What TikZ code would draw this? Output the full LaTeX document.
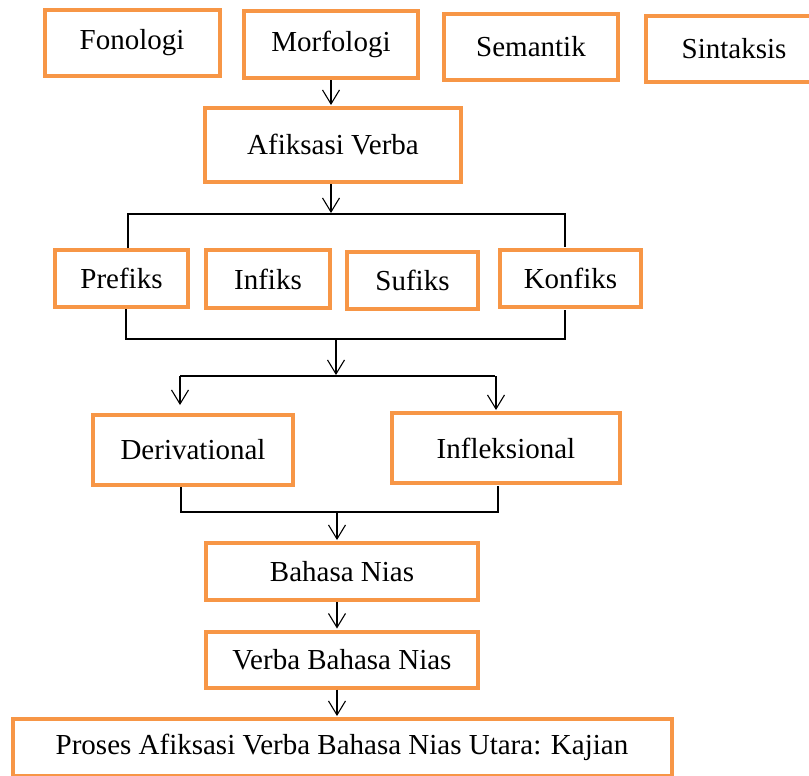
\documentclass[tikz,border=0pt]{standalone}
\usepackage{fontspec}
\setmainfont{Liberation Serif}
\usetikzlibrary{arrows.meta}
\definecolor{boxorange}{HTML}{F79646}

\begin{document}
\begin{tikzpicture}[x=0.5pt,y=-0.5pt,->,>={Straight Barb[length=7pt,width=8.5pt]},shorten >=0.5pt,line width=0.55pt,node distance=44pt,
    box/.style={rectangle, draw=boxorange, line width=2pt, inner sep=0pt, font=\fontsize{14.5}{17}\selectfont},
    ]
    \useasboundingbox (0,0) rectangle (809,776);

    \node [box, minimum width=87.5pt, minimum height=33pt](1) at (132,43){Fonologi};
    \node [box, minimum width=87pt, minimum height=33.5pt](2) at (331,44.5){Morfologi};
    \node [box, minimum width=87pt, minimum height=33pt](3) at (531,47){Semantik};
    \node [box, minimum width=88pt, minimum height=33pt](4) at (734,49){Sintaksis};

    \node [box, minimum width=128pt, minimum height=37pt](5) at (333,145){Afiksasi Verba};

    \node [box, minimum width=66.5pt, minimum height=28.5pt](6) at (121.5,278.5){Prefiks};
    \node [box, minimum width=62pt, minimum height=29pt](7) at (268,279){Infiks};
    \node [box, minimum width=65.5pt, minimum height=28.5pt](8) at (412.5,280.5){Sufiks};
    \node [box, minimum width=70.5pt, minimum height=28.5pt](9) at (570.5,278.5){Konfiks};

    \node [box, minimum width=100pt, minimum height=35pt](10) at (193,450){Derivational};
    \node [box, minimum width=114pt, minimum height=35pt](11) at (506,448){Infleksional};

    \node [box, minimum width=136pt, minimum height=28.5pt](12) at (342,571.5){Bahasa Nias};
    \node [box, minimum width=136pt, minimum height=28pt](13) [below of = 12]{Verba Bahasa Nias};
    \node [box, minimum width=329.5pt, minimum height=28.5pt](14) [below of = 13]{Proses Afiksasi Verba Bahasa Nias Utara: Kajian};

    % bus lines
    \coordinate (t1) at (128,214);
    \coordinate (t2) at (565,214);
    \coordinate (b1) at (126,339);
    \coordinate (b2) at (565,339);
    \coordinate (s0) at (336,376);
    \coordinate (s1) at (180,376);
    \coordinate (s2) at (496,376);
    \coordinate (j1) at (181,512);
    \coordinate (j2) at (498,512);
    \coordinate (j0) at (337,512);

    \draw (2.south -| 331,0) -- (5.north -| 331,0);
    \draw (5.south -| 331,0) -- (331,214);
    \draw[-] (6.north -| t1) -- (t1) -- (t2) -- (9.north -| t2);
    \draw[-] (6.south -| b1) -- (b1) -- (b2) -- (9.south -| b2);
    \draw (b1 -| s0) -- (s0);
    \draw[-] (s1) -- (s2);
    \draw[shorten >=4pt] (s1) -- (10.north -| s1);
    \draw (s2) -- (11.north -| s2);
    \draw[-] (10.south -| j1) -- (j1) -- (j2) -- (11.south -| j2);
    \draw (j0) -- (12.north -| j0);
    \draw (12.south -| j0) -- (13.north -| j0);
    \draw (13.south -| j0) -- (14.north -| j0);

\end{tikzpicture}
\end{document}
